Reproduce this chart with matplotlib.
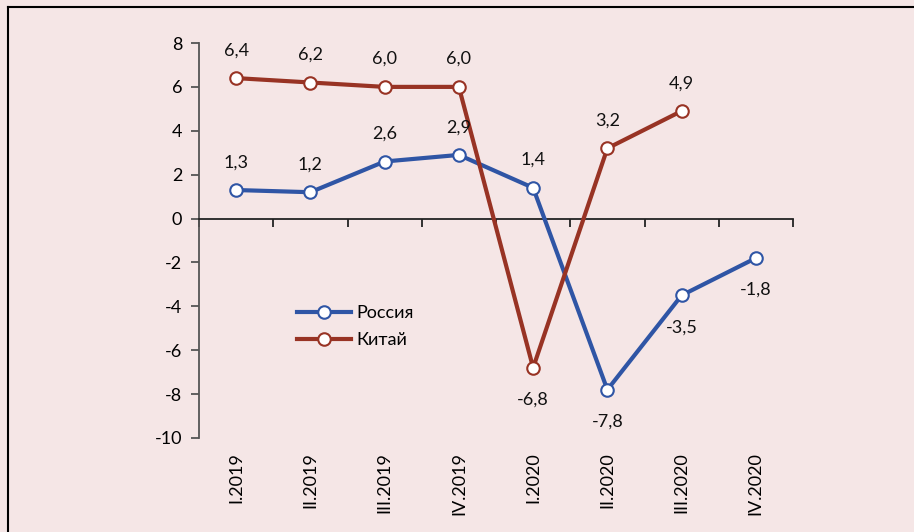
import numpy as np
import matplotlib.pyplot as plt
from matplotlib.lines import Line2D
from matplotlib.transforms import blended_transform_factory

quarters = ['I.2019', 'II.2019', 'III.2019', 'IV.2019', 'I.2020', 'II.2020', 'III.2020', 'IV.2020']
russia = [1.3, 1.2, 2.6, 2.9, 1.4, -7.8, -3.5, -1.8]
china = [6.4, 6.2, 6.0, 6.0, -6.8, 3.2, 4.9, np.nan]

bg = '#f5e6e6'
c_ru = '#2f55a5'
c_cn = '#983324'
plt.rcParams['font.family'] = ['Lato', 'DejaVu Sans']
fs = 13

fig = plt.figure(figsize=(9.14, 5.32), dpi=100, facecolor=bg)
ax = fig.add_axes([199/914, 1-438/532, (793-199)/914, (438-43)/532])
ax.set_facecolor(bg)

x = np.arange(len(quarters))
ax.plot(x, russia, color=c_ru, lw=3, marker='o', ms=9, mfc='white', mec=c_ru, mew=1.5,
        label='Россия', zorder=3)
ax.plot(x, china, color=c_cn, lw=3, marker='o', ms=9, mfc='white', mec=c_cn, mew=1.5,
        label='Китай', zorder=3)

def lab(v):
    return ('%.1f' % v).replace('.', ',')

for xs, ys in [(x, russia), (x, china)]:
    for xi, yi in zip(xs, ys):
        if np.isnan(yi):
            continue
        off = 20 if yi > 0 else -23
        ax.annotate(lab(yi), (xi, yi), xytext=(0, off), textcoords='offset points',
                    ha='center', va='center', fontsize=fs, color='#111111')

ax.set_xlim(-0.5, 7.5)
ax.set_ylim(-10, 8)
ax.set_yticks(range(-10, 9, 2))
ax.set_yticklabels([str(v) for v in range(-10, 9, 2)], fontsize=fs)
ax.spines['top'].set_visible(False)
ax.spines['right'].set_visible(False)
ax.spines['bottom'].set_position(('data', 0))
ax.spines['bottom'].set_color('#222222')
ax.spines['left'].set_color('#555555')
ax.spines['left'].set_linewidth(1.3)
ax.spines['bottom'].set_linewidth(1.3)
ax.set_xticks(np.arange(-0.5, 8, 1))
ax.set_xticklabels([])
ax.tick_params(axis='x', direction='out', length=6, color='#222222', width=1.3)
ax.tick_params(axis='y', direction='out', length=6, color='#555555', width=1.3, pad=6)

tr = blended_transform_factory(ax.transData, ax.transAxes)
for xi, q in zip(x, quarters):
    ax.text(xi, -0.035, q, transform=tr, rotation=90, ha='center', va='top', fontsize=fs)

leg = ax.legend(loc='upper left', bbox_to_anchor=(281/914, 1-289/532), bbox_transform=fig.transFigure,
                frameon=False, fontsize=fs, handlelength=3.0, handletextpad=0.28, labelspacing=0.6)

fig.add_artist(Line2D([8/914, 8/914], [0, 1-7/532], color='black', lw=1.5))
fig.add_artist(Line2D([8/914, 1], [1-7/532, 1-7/532], color='black', lw=1.5))

fig.savefig('out.png', dpi=100, facecolor=bg)
